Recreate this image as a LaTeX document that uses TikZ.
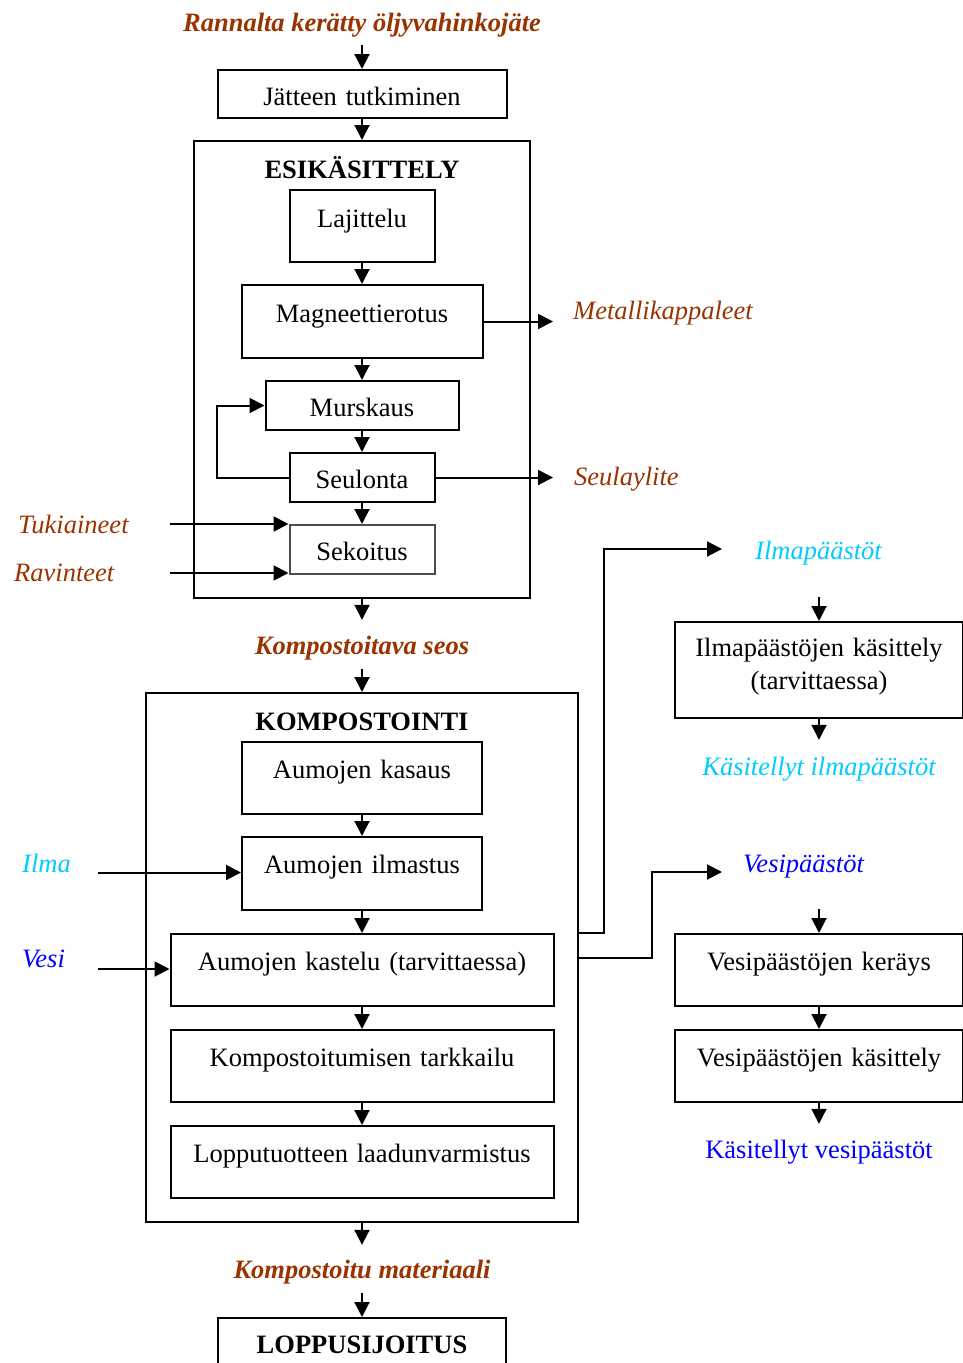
\documentclass[tikz,border=0pt]{standalone}
\usepackage{fontspec}
\setmainfont{Liberation Serif}
\usetikzlibrary{arrows.meta,calc}
\definecolor{brn}{RGB}{153,51,0}
\definecolor{cyn}{RGB}{0,204,255}
\definecolor{blu}{RGB}{0,0,255}
\begin{document}
\begin{tikzpicture}[x=1pt,y=-1pt,
  every node/.style={font=\fontsize{26.5}{33}\selectfont},
  box/.style={draw, line width=2pt, inner sep=0pt, anchor=north, align=center},
  frm/.style={box, font=\fontsize{26.5}{33}\selectfont\bfseries},
  lbl/.style={inner sep=0pt, text height=19pt, text depth=6pt},
  lbi/.style={lbl, font=\fontsize{26.5}{33}\selectfont\itshape},
  lbb/.style={lbl, font=\fontsize{26.5}{33}\selectfont\bfseries\itshape, text=brn},
  arr/.style={line width=2pt, -{Triangle[length=15pt,width=15pt]}}]
\useasboundingbox (0,0) rectangle (962,1363);

% ---- labels ----
\node[lbb, anchor=base] (src) at (362,31) {Rannalta kerätty öljyvahinkojäte};
\node[lbi, text=brn, anchor=base west] (met) at (573,319) {Metallikappaleet};
\node[lbi, text=brn, anchor=base west] (sly) at (574,485) {Seulaylite};
\node[lbi, text=brn, anchor=base west] (tuk) at (18,533) {Tukiaineet};
\node[lbi, text=brn, anchor=base west] (rav) at (14,581) {Ravinteet};
\node[lbb, anchor=base] (kseos) at (362,654) {Kompostoitava seos};
\node[lbi, text=cyn, anchor=base west] (ilma) at (22,872) {Ilma};
\node[lbi, text=blu, anchor=base west] (vesi) at (22,967) {Vesi};
\node[lbb, anchor=base] (kmat) at (362,1278) {Kompostoitu materiaali};
\node[lbi, text=cyn, anchor=base west] (ipa) at (755,559) {Ilmapäästöt};
\node[lbi, text=cyn, anchor=base] (kip) at (819,775) {Käsitellyt ilmapäästöt};
\node[lbi, text=blu, anchor=base west] (vpa) at (743,872) {Vesipäästöt};
\node[lbl, text=blu, anchor=base] (kvp) at (819,1158) {Käsitellyt vesipäästöt};

% ---- boxes ----
\node[box, text width=289pt, text height=35pt, text depth=13pt] (jt) at (362,69) {Jätteen tutkiminen};
\node[frm, text width=336pt, text height=37pt, text depth=420pt] (esi) at (362,140) {ESIKÄSITTELY};
\node[box, text width=145pt, text height=37pt, text depth=35pt] (laj) at (362,189) {Lajittelu};
\node[box, text width=241pt, text height=37pt, text depth=36pt] (mag) at (362,284) {Magneettierotus};
\node[box, text width=193pt, text height=35pt, text depth=14pt] (mur) at (362,380) {Murskaus};
\node[box, text width=145pt, text height=35pt, text depth=14pt] (seu) at (362,452) {Seulonta};
\node[box, draw=black!70, text width=145pt, text height=35pt, text depth=14pt] (sek) at (362,524) {Sekoitus};

\node[frm, text width=432pt, text height=37pt, text depth=492pt] (kom) at (362,692) {KOMPOSTOINTI};
\node[box, text width=240pt, text height=36pt, text depth=36pt] (kas) at (362,741) {Aumojen kasaus};
\node[box, text width=240pt, text height=36pt, text depth=37pt] (ilm) at (362,836) {Aumojen ilmastus};
\node[box, text width=383pt, text height=36pt, text depth=36pt] (kst) at (362,933) {Aumojen kastelu (tarvittaessa)};
\node[box, text width=383pt, text height=36pt, text depth=36pt] (tar) at (362,1029) {Kompostoitumisen tarkkailu};
\node[box, text width=383pt, text height=36pt, text depth=36pt] (lop) at (362,1125) {Lopputuotteen laadunvarmistus};
\node[frm, text width=288pt, text height=35pt, text depth=25pt] (lps) at (362,1317) {LOPPUSIJOITUS};

\node[box, text width=288pt, text height=34pt, text depth=62pt] (ilk) at (819,621) {Ilmapäästöjen käsittely\\(tarvittaessa)};
\node[box, text width=288pt, text height=36pt, text depth=36pt] (ver) at (819,933) {Vesipäästöjen keräys};
\node[box, text width=288pt, text height=36pt, text depth=36pt] (vek) at (819,1029) {Vesipäästöjen käsittely};

% ---- free ends ----
\coordinate (tukS) at (170,524);
\coordinate (ravS) at (170,573);
\coordinate (ilmaS) at (98,872.5);
\coordinate (vesiS) at (98,969);

% ---- connectors ----
\draw[arr, shorten <=8pt] (src.south) -- (jt.north);
\draw[arr] (jt.south) -- (esi.north);
\draw[arr] (laj.south) -- (mag.north);
\draw[arr] (mag.south) -- (mur.north);
\draw[arr] (mur.south) -- (seu.north);
\draw[arr] (seu.south) -- (sek.north);
\draw[arr, shorten >=20pt] (mag.east) -- (mag.east -| met.west);
\draw[arr, shorten >=21pt] (seu.east) -- (seu.east -| sly.west);
\draw[arr] (seu.west) -- ++(-72,0) |- (mur.west);
\draw[arr] (tukS) -- (tukS -| sek.west);
\draw[arr] (ravS) -- (ravS -| sek.west);

\draw[arr, shorten >=15pt] (esi.south) -- (kseos.north);
\draw[arr, shorten <=9pt] (kseos.south) -- (kom.north);
\draw[arr] (kas.south) -- (ilm.north);
\draw[arr] (ilm.south) -- (kst.north);
\draw[arr] (kst.south) -- (tar.north);
\draw[arr] (tar.south) -- (lop.north);
\draw[arr] (ilmaS) -- (ilmaS -| ilm.west);
\draw[arr] (vesiS) -- (vesiS -| kst.west);
\draw[arr, shorten >=14pt] (kom.south) -- (kmat.north);
\draw[arr, shorten <=9pt] (kmat.south) -- (lps.north);

\draw[arr, shorten >=33pt] (kom.east |- kst.north) -- ++(25,0) |- ($(ipa.base west)+(0,-10)$);
\draw[arr, shorten >=21pt] (kom.east) -- ++(73,0) |- (vpa.base west);
\draw[arr, shorten <=32pt] (ipa.south -| ilk.north) -- (ilk.north);
\draw[arr, shorten >=16pt] (ilk.south) -- (kip.north);
\draw[arr, shorten <=31pt] (vpa.south -| ver.north) -- (ver.north);
\draw[arr] (ver.south) -- (vek.north);
\draw[arr, shorten >=15pt] (vek.south) -- (kvp.north);
\end{tikzpicture}
\end{document}
